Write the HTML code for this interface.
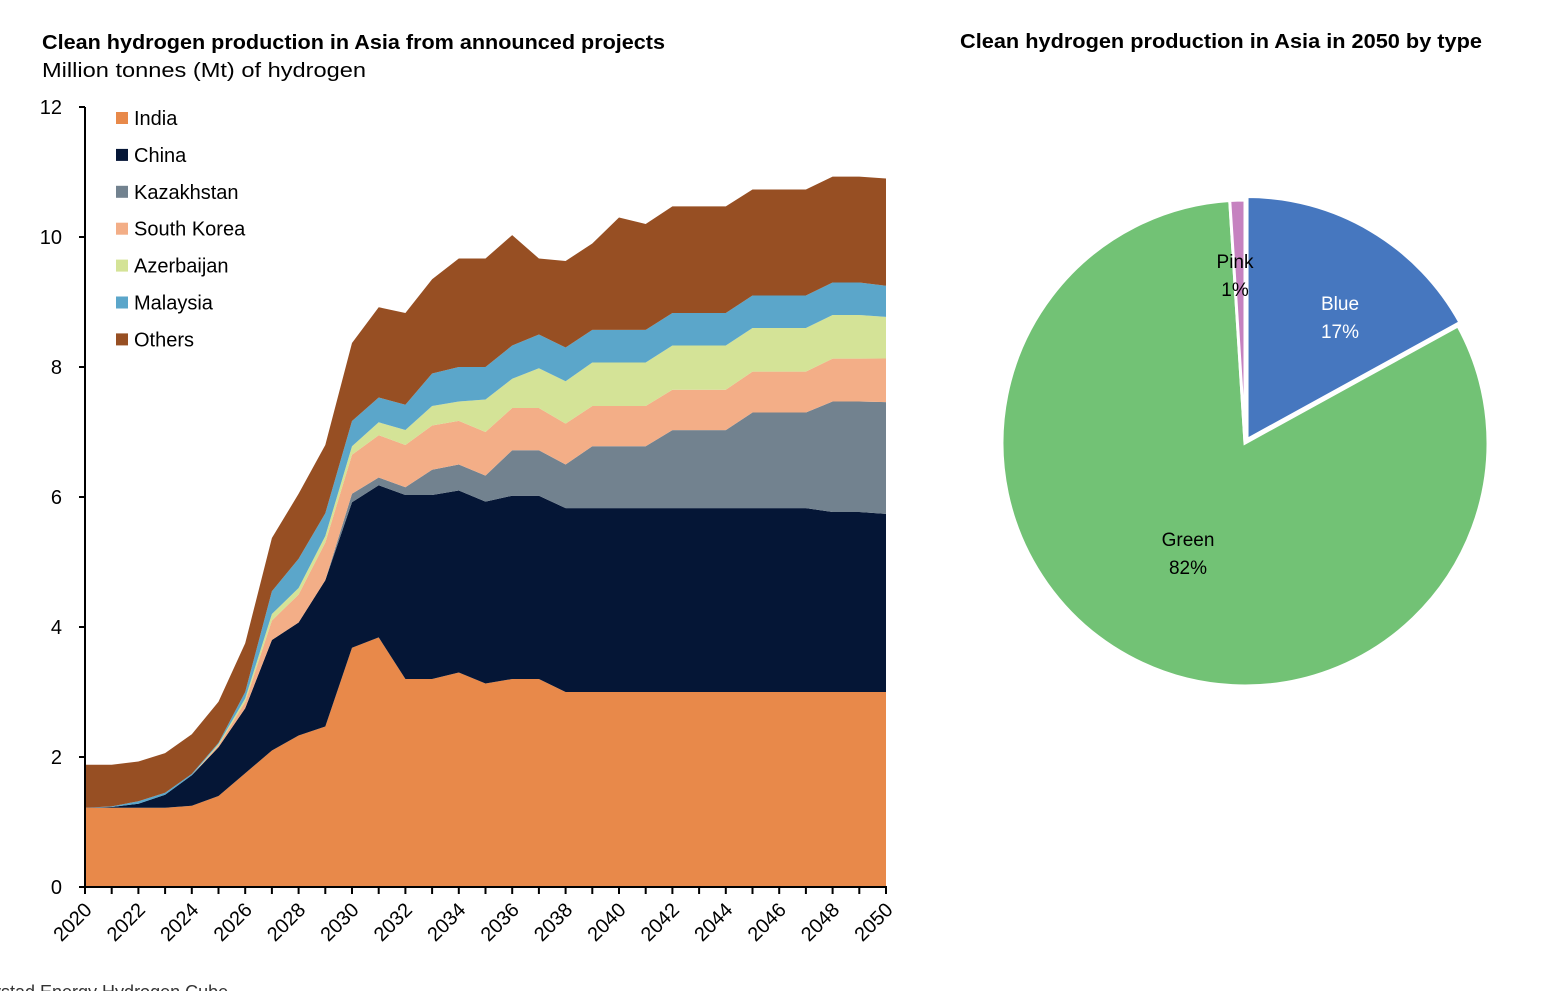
<!DOCTYPE html>
<html><head><meta charset="utf-8"><style>
html,body{margin:0;padding:0;background:#fff;}
svg{display:block;font-family:"Liberation Sans",sans-serif;}
</style></head><body>
<svg id="svg" width="1545" height="991" viewBox="0 0 1545 991">
<text x="42" y="49" font-size="20" font-weight="bold" fill="#000" textLength="623" lengthAdjust="spacingAndGlyphs">Clean hydrogen production in Asia from announced projects</text>
<text x="42" y="77" font-size="20" fill="#000" textLength="324" lengthAdjust="spacingAndGlyphs">Million tonnes (Mt) of hydrogen</text>
<text x="960" y="48" font-size="20" font-weight="bold" fill="#000" textLength="522" lengthAdjust="spacingAndGlyphs">Clean hydrogen production in Asia in 2050 by type</text>
<g id="areas"></g>
<g id="axes"></g>
<g id="legend"></g>
<g id="pie"></g>
<text x="-8" y="998" font-size="18" fill="#333">ystad Energy Hydrogen Cube</text>
</svg>
<script>
const years=[2020,2021,2022,2023,2024,2025,2026,2027,2028,2029,2030,2031,2032,2033,2034,2035,2036,2037,2038,2039,2040,2041,2042,2043,2044,2045,2046,2047,2048,2049,2050];
const seriesNames=["India","China","Kazakhstan","South Korea","Azerbaijan","Malaysia","Others"];
const seriesColors=["#E8894A","#051636","#72828F","#F3AE87","#D4E397","#5BA6CA","#974F23"];
const india=[1.22,1.22,1.22,1.22,1.25,1.4,1.75,2.1,2.33,2.47,3.68,3.84,3.2,3.2,3.3,3.13,3.2,3.2,3.0,3.0,3.0,3.0,3.0,3.0,3.0,3.0,3.0,3.0,3.0,3.0,3.0];
const china=[0,0.01,0.06,0.2,0.47,0.75,1.0,1.7,1.74,2.25,2.24,2.34,2.83,2.83,2.8,2.8,2.82,2.82,2.83,2.83,2.83,2.83,2.83,2.83,2.83,2.83,2.83,2.83,2.77,2.77,2.74];
const kazakhstan=[0,0,0,0,0,0,0,0,0,0,0.13,0.12,0.12,0.39,0.4,0.4,0.7,0.7,0.67,0.95,0.95,0.95,1.2,1.2,1.2,1.47,1.47,1.47,1.7,1.7,1.72];
const southKorea=[0,0,0,0,0,0.03,0.1,0.3,0.43,0.58,0.6,0.65,0.65,0.68,0.67,0.67,0.65,0.65,0.63,0.62,0.62,0.62,0.62,0.62,0.62,0.63,0.63,0.63,0.66,0.66,0.67];
const azerbaijan=[0,0,0,0,0,0.02,0.05,0.1,0.1,0.1,0.13,0.2,0.23,0.3,0.3,0.5,0.45,0.61,0.65,0.67,0.67,0.67,0.68,0.68,0.68,0.67,0.67,0.67,0.67,0.67,0.64];
const malaysia=[0,0.01,0.04,0.03,0.02,0.02,0.1,0.35,0.45,0.35,0.39,0.38,0.39,0.5,0.53,0.5,0.51,0.52,0.52,0.5,0.5,0.5,0.5,0.5,0.5,0.5,0.5,0.5,0.5,0.5,0.48];
const others=[0.66,0.64,0.61,0.61,0.61,0.63,0.75,0.82,1.0,1.05,1.2,1.39,1.41,1.45,1.67,1.67,1.7,1.17,1.33,1.33,1.73,1.63,1.64,1.64,1.64,1.63,1.63,1.63,1.63,1.63,1.65];
const yTicks=[0,2,4,6,8,10,12];
const pieLabels=["Blue","Green","Pink"];
const pieValues=[17,82,1];
const pieColors=["#4677BF","#72C275","#C682C0"];

const NS="http://www.w3.org/2000/svg";
function mk(tag,attrs,parent){const e=document.createElementNS(NS,tag);for(const k in attrs)e.setAttribute(k,attrs[k]);parent.appendChild(e);return e;}
const X0=85,X1=886,Y0=887,Y1=107;
function xs(yr){return X0+(yr-years[0])/(years[years.length-1]-years[0])*(X1-X0);}
function ys(v){return Y0-v/12*(Y0-Y1);}

const data=[india,china,kazakhstan,southKorea,azerbaijan,malaysia,others];
const areas=document.getElementById('areas');
let base=years.map(()=>0);
data.forEach((s,si)=>{
  const top=base.map((b,i)=>b+s[i]);
  let d="M"+years.map((y,i)=>xs(y).toFixed(1)+","+ys(top[i]).toFixed(1)).join("L");
  for(let i=years.length-1;i>=0;i--)d+="L"+xs(years[i]).toFixed(1)+","+ys(base[i]).toFixed(1);
  d+="Z";
  const p=mk('path',{d:d,fill:seriesColors[si]},areas);
  
  
  base=top;
});

const axes=document.getElementById('axes');
const ya=mk('line',{x1:X0,y1:Y1,x2:X0,y2:Y0,stroke:"#000","stroke-width":2},axes);


const xa=mk('line',{x1:X0,y1:Y0,x2:X1+1,y2:Y0,stroke:"#000","stroke-width":2},axes);


yTicks.forEach(v=>{
  mk('line',{x1:X0-6,y1:ys(v),x2:X0,y2:ys(v),stroke:"#000","stroke-width":2},axes);
  const t=mk('text',{x:62,y:ys(v)+7,"font-size":20,"text-anchor":"end",fill:"#000"},axes);
  t.textContent=v;
  
  
});
years.forEach((y,i)=>{
  mk('line',{x1:xs(y),y1:Y0,x2:xs(y),y2:Y0+7,stroke:"#000","stroke-width":2},axes);
  if(i%2===0){
    const tx=xs(y)+8,ty=Y0+24;
    const t=mk('text',{x:tx,y:ty,"font-size":20,"text-anchor":"end",fill:"#000",transform:"rotate(-45 "+tx+" "+ty+")"},axes);
    t.textContent=y;
    
    
  }
});

const legend=document.getElementById('legend');
seriesNames.forEach((n,i)=>{
  const cy=118+i*36.9;
  const r=mk('rect',{x:116,y:cy-6,width:12,height:12,fill:seriesColors[i]},legend);
  
  
  const t=mk('text',{x:134,y:cy+7,"font-size":20,fill:"#000"},legend);
  t.textContent=n;
  
  
});

const pie=document.getElementById('pie');
const cx=1245,cy=443,R=243;
const total=pieValues.reduce((a,b)=>a+b,0);
let a0=0;
const labelPos=[[1340,310],[1188,546],[1235,268]];
pieValues.forEach((v,i)=>{
  const a1=a0+v/total*2*Math.PI;
  let ox=0,oy=0;
  if(i===0){const am=(a0+a1)/2;ox=4*Math.sin(am);oy=-4*Math.cos(am);}
  const p0=[cx+ox+R*Math.sin(a0),cy+oy-R*Math.cos(a0)],p1=[cx+ox+R*Math.sin(a1),cy+oy-R*Math.cos(a1)];
  const large=(a1-a0)>Math.PI?1:0;
  const d="M"+(cx+ox)+","+(cy+oy)+"L"+p0[0]+","+p0[1]+"A"+R+","+R+" 0 "+large+" 1 "+p1[0]+","+p1[1]+"Z";
  const s=mk('path',{d:d,fill:pieColors[i],stroke:"#fff","stroke-width":3},pie);
  
  
  const col=i===0?"#fff":"#000";
  const t1=mk('text',{x:labelPos[i][0],y:labelPos[i][1],"font-size":19,"text-anchor":"middle",fill:col},pie);
  t1.textContent=pieLabels[i];
  
  
  const t2=mk('text',{x:labelPos[i][0],y:labelPos[i][1]+28,"font-size":19,"text-anchor":"middle",fill:col},pie);
  t2.textContent=pieValues[i]+"%";
  
  
  a0=a1;
});
</script>
</body></html>
